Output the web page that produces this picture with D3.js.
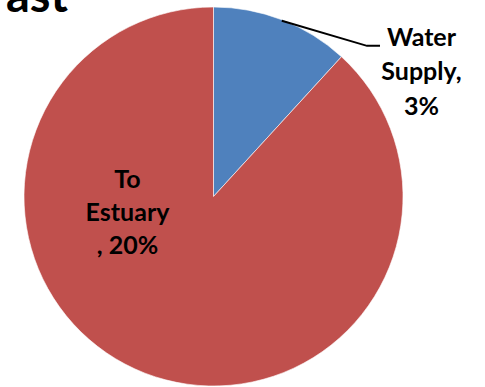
<!DOCTYPE html>
<html>
<head>
<meta charset="utf-8">
<script src="https://cdn.jsdelivr.net/npm/d3@7"></script>
<style>
  body { margin: 0; background: #fff; }
  svg { display: block; }
  text { font-family: Lato, Carlito, "Open Sans", sans-serif; font-weight: bold; }
</style>
</head>
<body>
<svg></svg>
<script>
// Define variables
const width = 485;
const height = 387;

// data
const categories = ['Water Supply', 'To Estuary'];
const labelPcts = ['3%', '20%'];
const shares = [11.8, 88.2];   // slice sizes as drawn
const colors = ['#4F81BD', '#C0504D'];
const labelLines = [['Water', 'Supply,', '3%'], ['To', 'Estuary', ', 20%']];

const cx = 213.5, cy = 196.5, radius = 189.5;

const svg = d3.select('svg')
                .attr('width', width)
                .attr('height', height)

// cut-off title at the top
svg.append('text')
    .attr('x', 68)
    .attr('y', 12)
    .attr('text-anchor', 'end')
    .attr('font-size', 47)
    .attr('font-weight', 900)
    .attr('fill', '#000')
    .text('ast')

const pie = d3.pie().sort(null).value(d => d)
const arcs = pie(shares)

const arc = d3.arc().innerRadius(0).outerRadius(radius)

const g = svg.append('g')
            .attr('transform', 'translate(' + cx + ',' + cy + ')')

g.selectAll('path')
    .data(arcs)
    .enter()
    .append('path')
    .attr('d', arc)
    .attr('fill', (d, i) => colors[i])
    .attr('stroke', '#fff')
    .attr('stroke-width', 0.6)

// leader line for the small slice
let a0 = arcs[0]
let mid = (a0.startAngle + a0.endAngle) / 2
let p1 = [Math.sin(mid) * (radius - 1), -Math.cos(mid) * (radius - 1)]
let elbow = [radius * 0.81, -radius * 0.795]
g.append('polyline')
    .attr('points', [p1, elbow, [elbow[0] + 13, elbow[1]]].map(p => p.join(',')).join(' '))
    .attr('fill', 'none')
    .attr('stroke', '#000')
    .attr('stroke-width', 2)

// labels
let outside = g.append('text')
                .attr('text-anchor', 'middle')
                .attr('font-size', 25)
                .attr('fill', '#000')
outside.selectAll('tspan')
    .data(labelLines[0])
    .enter()
    .append('tspan')
    .attr('x', 208)
    .attr('y', (d, i) => -151 + i * 34.5)
    .text(d => d)

let inside = g.append('text')
                .attr('text-anchor', 'middle')
                .attr('font-size', 25)
                .attr('fill', '#000')
inside.selectAll('tspan')
    .data(labelLines[1])
    .enter()
    .append('tspan')
    .attr('x', -86)
    .attr('y', (d, i) => -8.5 + i * 33)
    .text(d => d)
</script>
</body>
</html>
